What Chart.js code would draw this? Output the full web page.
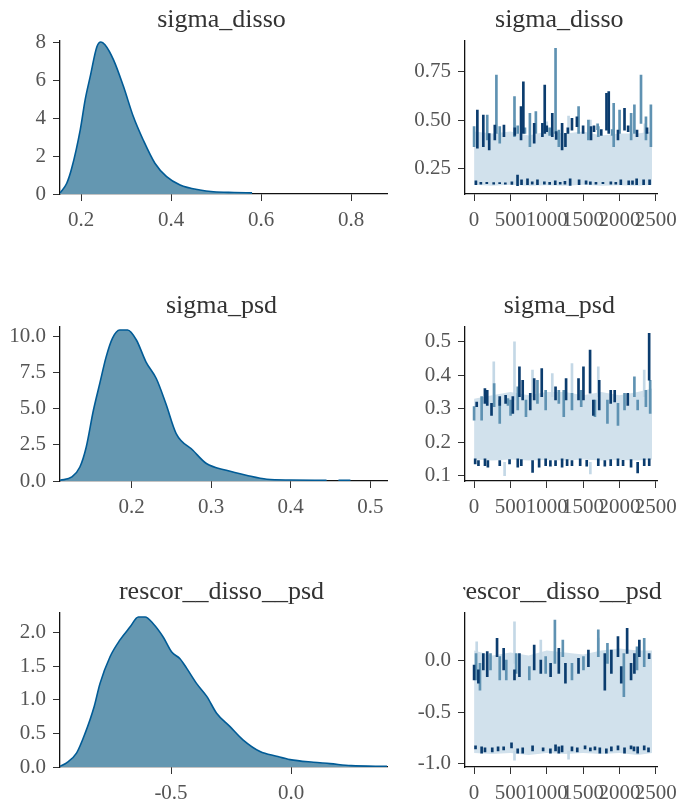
<!DOCTYPE html>
<html>
<head>
<meta charset="utf-8">
<script src="https://cdn.jsdelivr.net/npm/chart.js@4.4.1/dist/chart.umd.min.js"></script>
<style>
  body { margin: 0; background: #fff; }
  canvas { position: absolute; }
</style>
</head>
<body>
<canvas id="c1" width="400" height="240" style="left:0;top:0"></canvas>
<canvas id="c2" width="284" height="240" style="left:400px;top:0"></canvas>
<canvas id="c3" width="400" height="250" style="left:0;top:280px"></canvas>
<canvas id="c4" width="284" height="250" style="left:400px;top:280px"></canvas>
<canvas id="c5" width="400" height="241" style="left:0;top:560px"></canvas>
<canvas id="c6" width="284" height="241" style="left:400px;top:560px"></canvas>
<script>
// ---- data ----

// density: sigma_disso
const sdDensX = [0.153, 0.168, 0.179, 0.198, 0.209, 0.220, 0.235, 0.244, 0.253, 0.272, 0.294, 0.316, 0.338, 0.364, 0.390, 0.420, 0.464, 0.494, 0.540, 0.580];
const sdDensY = [0.05, 0.57, 1.36, 3.4, 5.0, 6.2, 7.8, 8.05, 7.9, 7.1, 5.7, 4.1, 2.86, 1.63, 0.92, 0.48, 0.21, 0.12, 0.08, 0.06];
const sdDensXTicks = [0.2, 0.4, 0.6, 0.8];
const sdDensYTicks = [0, 2, 4, 6, 8];

// density: sigma_psd
const psDensX = [0.110, 0.125, 0.135, 0.143, 0.152, 0.160, 0.168, 0.176, 0.185, 0.195, 0.206, 0.218, 0.231, 0.243, 0.256, 0.277, 0.294, 0.319, 0.344, 0.370, 0.400, 0.445];
const psDensY = [0.05, 0.28, 0.97, 2.36, 4.9, 6.76, 8.6, 9.9, 10.46, 10.46, 9.77, 8.26, 7.1, 5.37, 3.29, 2.13, 1.21, 0.74, 0.4, 0.12, 0.07, 0.05];
const psTailX = [0.46, 0.475];
const psTailY = [0.05, 0.05];
const psDensXTicks = [0.2, 0.3, 0.4, 0.5];
const psDensYTicks = [0, 2.5, 5, 7.5, 10];

// density: rescor__disso__psd
const rcDensX = [-0.9625, -0.935, -0.893, -0.858, -0.82, -0.796, -0.754, -0.7125, -0.671, -0.636, -0.608, -0.574, -0.532, -0.497, -0.4625, -0.435, -0.393, -0.351, -0.31, -0.254, -0.199, -0.129, -0.06, -0.004, 0.093, 0.1625, 0.25, 0.40];
const rcDensY = [0.01, 0.06, 0.21, 0.5, 0.9, 1.24, 1.64, 1.89, 2.08, 2.23, 2.23, 2.13, 1.93, 1.71, 1.61, 1.47, 1.24, 1.05, 0.8, 0.6, 0.40, 0.23, 0.16, 0.11, 0.07, 0.05, 0.02, 0.01];
const rcDensXTicks = [-0.5, 0.0];
const rcDensYTicks = [0, 0.5, 1, 1.5, 2];

// traces: shared
const bandIter = [0, 250, 500, 750, 1000, 1250, 1500, 1750, 2000, 2250, 2450];
const iterTicks = [0, 500, 1000, 1500, 2000, 2500];

// trace: sigma_disso   [iteration, low, high]
const sdBandLo = [0.165, 0.16, 0.165, 0.16, 0.162, 0.16, 0.165, 0.16, 0.162, 0.16, 0.165];
const sdBandHi = [0.44, 0.43, 0.44, 0.42, 0.44, 0.43, 0.44, 0.42, 0.43, 0.43, 0.44];
const sdLight = [[560, 0.43, 0.5], [1300, 0.43, 0.52], [1600, 0.43, 0.5], [2350, 0.43, 0.48], [1000, 0.43, 0.49]];
const sdMid = [[0, 0.362, 0.466], [181, 0.397, 0.526], [307, 0.431, 0.733], [353, 0.38, 0.466], [556, 0.414, 0.621], [600, 0.43, 0.47], [700, 0.43, 0.46], [768, 0.362, 0.535], [850, 0.431, 0.543], [1040, 0.42, 0.46], [1121, 0.431, 0.871], [1166, 0.362, 0.448], [1438, 0.431, 0.569], [1573, 0.397, 0.5], [1700, 0.45, 0.48], [1709, 0.414, 0.466], [1900, 0.42, 0.45], [1921, 0.362, 0.586], [2002, 0.431, 0.552], [2161, 0.397, 0.535], [2206, 0.431, 0.578], [2297, 0.483, 0.733], [2365, 0.397, 0.517], [2433, 0.362, 0.578]];
const sdDark = [[45, 0.354, 0.552], [127, 0.362, 0.526], [208, 0.345, 0.43], [285, 0.397, 0.474], [411, 0.414, 0.474], [560, 0.42, 0.46], [646, 0.397, 0.569], [678, 0.431, 0.698], [827, 0.38, 0.483], [940, 0.414, 0.483], [972, 0.431, 0.681], [1000, 0.44, 0.47], [1076, 0.414, 0.535], [1130, 0.4, 0.44], [1211, 0.345, 0.483], [1257, 0.362, 0.431], [1290, 0.43, 0.46], [1347, 0.448, 0.509], [1415, 0.466, 0.517], [1500, 0.43, 0.47], [1609, 0.397, 0.466], [1650, 0.44, 0.47], [1750, 0.42, 0.45], [1822, 0.448, 0.638], [1853, 0.431, 0.647], [1980, 0.397, 0.448], [2070, 0.448, 0.56], [2120, 0.44, 0.47], [2242, 0.414, 0.448], [2380, 0.43, 0.46]];
const sdLow = [[25, 0.165, 0.185], [93, 0.168, 0.178], [175, 0.17, 0.178], [270, 0.168, 0.176], [352, 0.17, 0.176], [430, 0.168, 0.175], [520, 0.166, 0.18], [598, 0.16, 0.215], [653, 0.165, 0.19], [735, 0.165, 0.195], [800, 0.168, 0.18], [872, 0.165, 0.19], [967, 0.168, 0.18], [1040, 0.166, 0.178], [1117, 0.165, 0.185], [1185, 0.168, 0.178], [1250, 0.168, 0.182], [1322, 0.162, 0.195], [1445, 0.165, 0.19], [1541, 0.168, 0.185], [1600, 0.166, 0.18], [1677, 0.168, 0.178], [1773, 0.17, 0.178], [1882, 0.168, 0.18], [1950, 0.168, 0.178], [2019, 0.165, 0.19], [2128, 0.165, 0.185], [2180, 0.166, 0.185], [2237, 0.165, 0.195], [2333, 0.165, 0.19], [2415, 0.165, 0.19]];
const sdTraceYTicks = [0.25, 0.5, 0.75];

// trace: sigma_psd
const psBandLo = [0.148, 0.145, 0.148, 0.145, 0.147, 0.145, 0.148, 0.145, 0.147, 0.145, 0.148];
const psBandHi = [0.33, 0.34, 0.35, 0.34, 0.35, 0.35, 0.34, 0.35, 0.34, 0.35, 0.36];
const psLight = [[271, 0.326, 0.44], [556, 0.326, 0.5], [804, 0.336, 0.415], [1076, 0.336, 0.405], [1347, 0.336, 0.435], [1709, 0.336, 0.425], [2341, 0.336, 0.415], [420, 0.1, 0.14], [1600, 0.105, 0.14]];
const psMid = [[0, 0.266, 0.306], [104, 0.266, 0.336], [276, 0.306, 0.375], [353, 0.256, 0.326], [466, 0.31, 0.33], [502, 0.28, 0.326], [601, 0.296, 0.365], [714, 0.276, 0.326], [872, 0.316, 0.385], [985, 0.296, 0.355], [1166, 0.316, 0.355], [1234, 0.276, 0.355], [1347, 0.296, 0.346], [1474, 0.306, 0.355], [1663, 0.276, 0.326], [1835, 0.256, 0.326], [1980, 0.25, 0.316], [2070, 0.296, 0.346], [2206, 0.336, 0.395], [2251, 0.296, 0.326], [2364, 0.306, 0.355], [2423, 0.286, 0.385]];
const psDark = [[36, 0.306, 0.32], [149, 0.316, 0.36], [181, 0.31, 0.355], [240, 0.28, 0.316], [353, 0.31, 0.336], [434, 0.316, 0.34], [533, 0.286, 0.336], [624, 0.336, 0.425], [669, 0.326, 0.385], [773, 0.296, 0.346], [827, 0.326, 0.39], [931, 0.336, 0.42], [1121, 0.326, 0.365], [1266, 0.326, 0.39], [1437, 0.326, 0.39], [1505, 0.326, 0.425], [1596, 0.346, 0.475], [1641, 0.28, 0.326], [1722, 0.296, 0.385], [1880, 0.316, 0.355], [1935, 0.32, 0.355], [2115, 0.31, 0.346], [2409, 0.385, 0.525]];
const psLow = [[15, 0.135, 0.15], [60, 0.13, 0.145], [150, 0.13, 0.15], [190, 0.125, 0.145], [353, 0.13, 0.145], [488, 0.135, 0.148], [601, 0.125, 0.15], [650, 0.13, 0.148], [805, 0.11, 0.145], [895, 0.125, 0.15], [985, 0.13, 0.15], [1050, 0.128, 0.145], [1121, 0.13, 0.145], [1211, 0.125, 0.15], [1280, 0.13, 0.148], [1347, 0.13, 0.145], [1460, 0.13, 0.15], [1550, 0.128, 0.146], [1709, 0.13, 0.15], [1799, 0.128, 0.145], [1880, 0.13, 0.148], [1980, 0.13, 0.15], [2050, 0.13, 0.146], [2160, 0.125, 0.148], [2251, 0.108, 0.14], [2341, 0.13, 0.15], [2410, 0.13, 0.15]];
const psTraceYTicks = [0.1, 0.2, 0.3, 0.4, 0.5];

// trace: rescor__disso__psd
const rcBandLo = [-0.90, -0.91, -0.90, -0.92, -0.90, -0.91, -0.90, -0.91, -0.90, -0.92, -0.90];
const rcBandHi = [0.1, 0.05, 0.08, 0.05, 0.1, 0.08, 0.06, 0.1, 0.12, 0.1, 0.1];
const rcLight = [[36, -0.09, 0.185], [556, -0.026, 0.38], [1709, 0.04, 0.22], [918, 0.0, 0.2], [556, -0.97, -0.88], [1300, -0.96, -0.88]];
const rcMid = [[27, -0.188, 0.07], [81, -0.286, -0.026], [226, -0.09, 0.07], [353, -0.188, 0.04], [443, -0.188, 0.006], [579, -0.123, 0.07], [760, -0.188, -0.058], [985, -0.123, 0.04], [1112, -0.026, 0.396], [1221, 0.04, 0.2], [1347, -0.188, -0.026], [1505, -0.09, 0.04], [1709, 0.04, 0.3], [1835, -0.026, 0.17], [2061, -0.35, 0.07], [2242, -0.09, 0.136], [2341, -0.058, 0.218]];
const rcDark = [[0, -0.188, -0.042], [59, -0.22, -0.09], [127, -0.09, 0.07], [181, -0.156, 0.088], [316, 0.04, 0.218], [407, -0.09, 0.12], [556, -0.188, -0.09], [624, -0.156, 0.07], [827, -0.09, 0.153], [918, -0.123, 0.006], [1053, -0.156, -0.026], [1166, -0.123, 0.12], [1257, -0.22, -0.026], [1437, -0.123, 0.023], [1573, -0.058, 0.104], [1799, -0.286, 0.07], [1889, -0.123, 0.104], [1980, 0.04, 0.234], [2025, -0.22, -0.058], [2106, 0.07, 0.315], [2160, -0.188, -0.026], [2206, -0.123, 0.07], [2274, 0.04, 0.2], [2409, 0.02, 0.07]];
const rcLow = [[20, -0.86, -0.83], [104, -0.9, -0.84], [150, -0.89, -0.85], [250, -0.89, -0.85], [330, -0.88, -0.84], [407, -0.87, -0.84], [515, -0.85, -0.8], [600, -0.9, -0.86], [669, -0.9, -0.85], [805, -0.88, -0.83], [950, -0.88, -0.85], [1050, -0.9, -0.86], [1121, -0.88, -0.82], [1166, -0.9, -0.84], [1211, -0.89, -0.83], [1347, -0.88, -0.84], [1420, -0.89, -0.85], [1527, -0.86, -0.83], [1600, -0.88, -0.85], [1663, -0.87, -0.84], [1730, -0.9, -0.85], [1820, -0.9, -0.86], [1889, -0.88, -0.84], [1980, -0.87, -0.83], [2070, -0.9, -0.85], [2160, -0.86, -0.83], [2200, -0.88, -0.84], [2251, -0.9, -0.84], [2341, -0.87, -0.83], [2400, -0.89, -0.85]];
const rcTraceYTicks = [-1.0, -0.5, 0.0];

// ---- styling / helpers ----
const FONT = '"Liberation Serif", "DejaVu Serif", serif';
const C_LIGHT = '#d1e1ec', C_PALE = '#c4d8e6', C_MID = '#5f92b2', C_DARK = '#0b3c6e';
const C_FILL = '#6497b1', C_LINE = '#005b96';

// title centred over the panel and clipped to it (like the long right-hand title)
const panelTitle = {
    id: 'panelTitle',
    afterDraw(chart, args, opts) {
        const a = chart.chartArea, ctx = chart.ctx;
        ctx.save();
        ctx.beginPath();
        ctx.rect(a.left - 2, 0, a.right - a.left + 8, a.top);
        ctx.clip();
        ctx.font = '26px ' + FONT;
        ctx.fillStyle = '#333';
        ctx.textAlign = 'center';
        ctx.textBaseline = 'alphabetic';
        ctx.fillText(opts.text, (a.left + a.right) / 2 - 2, a.top - 14);
        ctx.restore();
    }
};

function axis(which, min, max, ticks, dec) {
    return {
        type: 'linear', min: min, max: max, offset: false,
        grid: { display: true, drawOnChartArea: false, drawTicks: true, tickLength: 7, color: '#333', offset: false },
        border: { display: true, color: '#111', width: 1.3 },
        ticks: {
            autoSkip: false, maxRotation: 0, minRotation: 0,
            padding: 7,
            color: '#555', font: { family: FONT, size: 21 },
            callback: v => v.toFixed(dec)
        },
        afterBuildTicks: s => { s.ticks = ticks.map(v => ({ value: v })); },
        afterFit: s => { if (which === 'x') s.height = 34; else s.width = 50; }
    };
}

function pts(xs, ys) { return xs.map((x, i) => ({ x: x, y: ys[i] })); }
function spikes(list) { return list.map(d => ({ x: d[0], y: [d[1], d[2]] })); }

function densityChart(id, title, xs, ys, extra, xr, xt, xd, yr, yt, yd, pad) {
    const sets = [[xs, ys]].concat(extra).map(s => ({
        data: pts(s[0], s[1]), fill: 'origin',
        backgroundColor: C_FILL, borderColor: C_LINE, borderWidth: 1.6,
        pointRadius: 0, cubicInterpolationMode: 'monotone'
    }));
    new Chart(document.getElementById(id), {
        type: 'line',
        data: { datasets: sets },
        options: {
            responsive: false, animation: false,
            layout: { padding: pad },
            plugins: { legend: { display: false }, tooltip: { enabled: false }, panelTitle: { text: title } },
            scales: { x: axis('x', xr[0], xr[1], xt, xd), y: axis('y', yr[0], yr[1], yt, yd) }
        },
        plugins: [panelTitle]
    });
}

function traceChart(id, title, lo, hi, light, mid, dark, low, yr, yt, yd, pad) {
    const bar = (list, color, order) => ({
        type: 'bar', data: spikes(list), backgroundColor: color,
        barThickness: 2, grouped: false, borderWidth: 0, order: order
    });
    new Chart(document.getElementById(id), {
        type: 'bar',
        data: {
            datasets: [
                { type: 'line', data: pts(bandIter, lo), borderWidth: 0, pointRadius: 0, fill: false, order: 10 },
                { type: 'line', data: pts(bandIter, hi), borderWidth: 0, pointRadius: 0, fill: '-1', backgroundColor: C_LIGHT, order: 9 },
                bar(light, C_PALE, 4),
                bar(mid, C_MID, 3),
                bar(low, C_DARK, 2),
                bar(dark, C_DARK, 1)
            ]
        },
        options: {
            responsive: false, animation: false,
            layout: { padding: pad },
            plugins: { legend: { display: false }, tooltip: { enabled: false }, panelTitle: { text: title } },
            scales: { x: axis('x', -125, 2525, iterTicks, 0), y: axis('y', yr[0], yr[1], yt, yd) }
        },
        plugins: [panelTitle]
    });
}

// ---- build the six panels ----
densityChart('c1', 'sigma_disso', sdDensX, sdDensY, [], [0.153, 0.88], sdDensXTicks, 1, [0, 8.1], sdDensYTicks, 0,
    { left: 10, top: 41, right: 13, bottom: 12 });
traceChart('c2', 'sigma_disso', sdBandLo, sdBandHi, sdLight, sdMid, sdDark, sdLow, [0.117, 0.909], sdTraceYTicks, 2,
    { left: 15, top: 41, right: 25, bottom: 12 });

densityChart('c3', 'sigma_psd', psDensX, psDensY, [[psTailX, psTailY]], [0.11, 0.521], psDensXTicks, 1, [0, 10.67], psDensYTicks, 1,
    { left: 10, top: 47, right: 13, bottom: 15 });
traceChart('c4', 'sigma_psd', psBandLo, psBandHi, psLight, psMid, psDark, psLow, [0.084, 0.544], psTraceYTicks, 1,
    { left: 15, top: 47, right: 25, bottom: 15 });

densityChart('c5', 'rescor__disso__psd', rcDensX, rcDensY, [], [-0.9625, 0.40], rcDensXTicks, 1, [0, 2.29], rcDensYTicks, 1,
    { left: 10, top: 53, right: 13, bottom: 0 });
traceChart('c6', 'rescor__disso__psd', rcBandLo, rcBandHi, rcLight, rcMid, rcDark, rcLow, [-1.036, 0.465], rcTraceYTicks, 1,
    { left: 15, top: 53, right: 25, bottom: 0 });
</script>
</body>
</html>
